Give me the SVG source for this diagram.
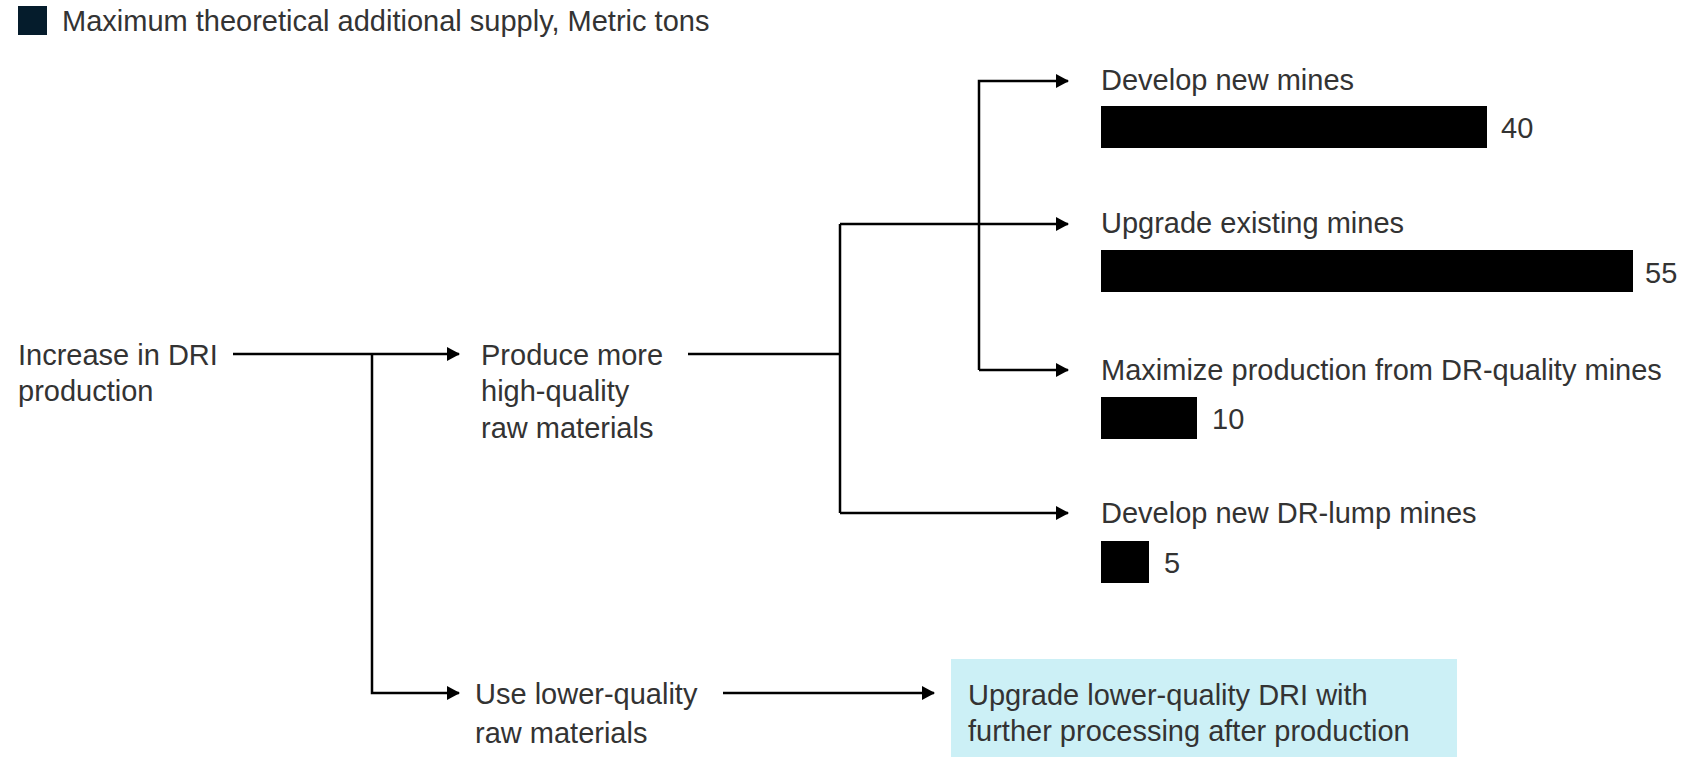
<svg xmlns="http://www.w3.org/2000/svg" width="1704" height="757" viewBox="0 0 1704 757">
  <style>
    text { font-family: "Liberation Sans", Arial, sans-serif; font-size: 29px; fill: #333333; }
    .bar { fill: #000000; }
    .conn { fill: none; stroke: #000000; stroke-width: 2.5; }
  </style>
  <defs>
    <marker id="arrow" markerWidth="14" markerHeight="14" refX="12" refY="7" orient="auto" markerUnits="userSpaceOnUse">
      <path d="M0,0 L13,7 L0,14 Z" fill="#000000"/>
    </marker>
  </defs>
  <rect width="1704" height="757" fill="#ffffff"/>

  <!-- legend -->
  <g id="legend">
    <rect x="18" y="6" width="29" height="29" fill="#051c2c"/>
    <text x="62" y="31">Maximum theoretical additional supply, Metric tons</text>
  </g>

  <!-- connectors -->
  <g id="connectors">
    <path class="conn" d="M233,354 H459" marker-end="url(#arrow)"/>
    <path class="conn" d="M372,354 V693 H459" marker-end="url(#arrow)"/>
    <path class="conn" d="M688,354 H840"/>
    <path class="conn" d="M840,224 V513"/>
    <path class="conn" d="M840,224 H1068" marker-end="url(#arrow)"/>
    <path class="conn" d="M840,513 H1068" marker-end="url(#arrow)"/>
    <path class="conn" d="M979,370 V81 H1068" marker-end="url(#arrow)"/>
    <path class="conn" d="M979,370 H1068" marker-end="url(#arrow)"/>
    <path class="conn" d="M723,693 H934" marker-end="url(#arrow)"/>
  </g>

  <g id="node-increase">
    <text x="18" y="365">Increase in DRI</text>
    <text x="18" y="401">production</text>
  </g>

  <g id="node-high-quality">
    <text x="481" y="365">Produce more</text>
    <text x="481" y="401">high-quality</text>
    <text x="481" y="438">raw materials</text>
  </g>

  <g id="node-lower-quality">
    <text x="475" y="704">Use lower-quality</text>
    <text x="475" y="743">raw materials</text>
  </g>

  <g id="node-upgrade-dri">
    <rect x="951" y="659" width="506" height="98" fill="#ccf0f6"/>
    <text x="968" y="705">Upgrade lower-quality DRI with</text>
    <text x="968" y="741">further processing after production</text>
  </g>

  <g id="node-new-mines">
    <text x="1101" y="90">Develop new mines</text>
    <rect class="bar" x="1101" y="106" width="386" height="42"/>
    <text x="1501" y="138">40</text>
  </g>

  <g id="node-upgrade-mines">
    <text x="1101" y="233">Upgrade existing mines</text>
    <rect class="bar" x="1101" y="250" width="532" height="42"/>
    <text x="1645" y="283">55</text>
  </g>

  <g id="node-maximize">
    <text x="1101" y="380">Maximize production from DR-quality mines</text>
    <rect class="bar" x="1101" y="397" width="96" height="42"/>
    <text x="1212" y="429">10</text>
  </g>

  <g id="node-dr-lump">
    <text x="1101" y="523">Develop new DR-lump mines</text>
    <rect class="bar" x="1101" y="541" width="48" height="42"/>
    <text x="1164" y="573">5</text>
  </g>
</svg>
